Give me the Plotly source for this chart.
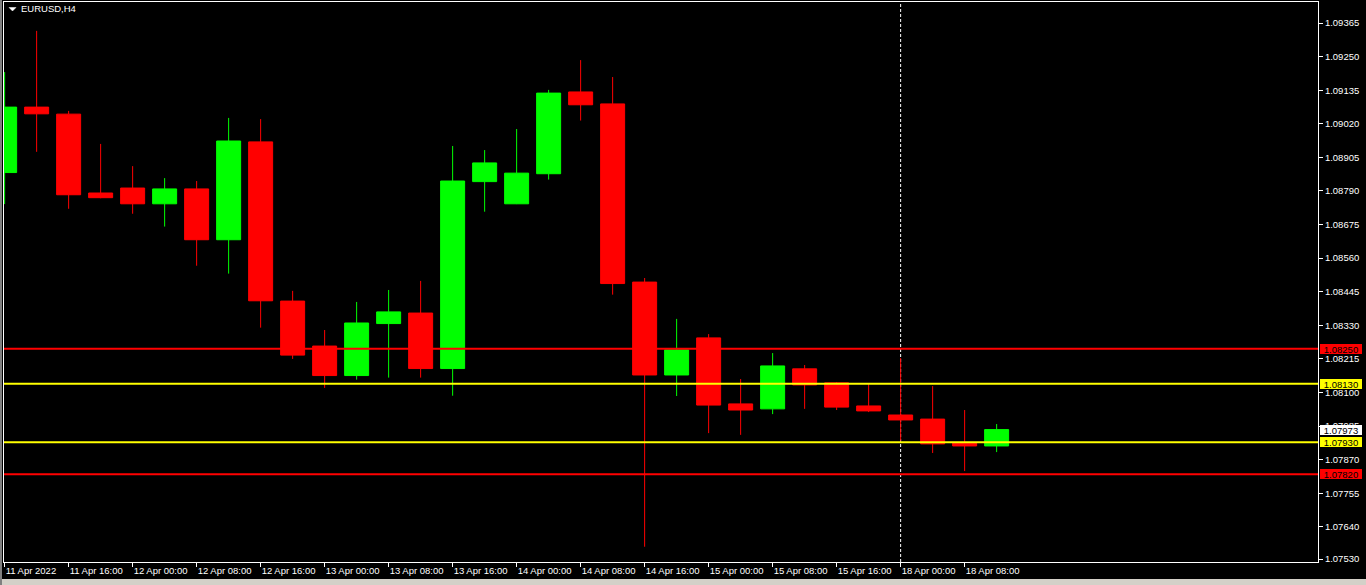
import plotly.graph_objects as go

symbol_title = "EURUSD,H4"

bar_index = list(range(32))
opens = [1.08853, 1.09077, 1.09053, 1.08783, 1.08800, 1.08746, 1.08797, 1.08623,
         1.08958, 1.08413, 1.08259, 1.08158, 1.08336, 1.08372, 1.08182, 1.08822,
         1.08746, 1.08849, 1.09129, 1.09088, 1.08478, 1.08160, 1.08287, 1.08061,
         1.08044, 1.08181, 1.08133, 1.08054, 1.08023, 1.08009, 1.07927, 1.07917]
highs = [1.09197, 1.09338, 1.09064, 1.08951, 1.08875, 1.08834, 1.08824, 1.09040,
         1.09036, 1.08448, 1.08314, 1.08410, 1.08451, 1.08482, 1.08944, 1.08930,
         1.09002, 1.09136, 1.09238, 1.09180, 1.08492, 1.08352, 1.08300, 1.08146,
         1.08235, 1.08194, 1.08136, 1.08129, 1.08218, 1.08122, 1.08040, 1.07992]
lows = [1.08745, 1.08924, 1.08729, 1.08765, 1.08712, 1.08668, 1.08534, 1.08507,
        1.08322, 1.08215, 1.08116, 1.08144, 1.08151, 1.08151, 1.08089, 1.08719,
        1.08745, 1.08829, 1.09031, 1.08435, 1.07572, 1.08088, 1.07961, 1.07955,
        1.08026, 1.08044, 1.08040, 1.08033, 1.07935, 1.07893, 1.07831, 1.07896]
closes = [1.09077, 1.09054, 1.08777, 1.08767, 1.08746, 1.08797, 1.08623, 1.08961,
          1.08414, 1.08228, 1.08158, 1.08338, 1.08376, 1.08182, 1.08824, 1.08886,
          1.08851, 1.09125, 1.09085, 1.08473, 1.08160, 1.08246, 1.08057, 1.08040,
          1.08191, 1.08126, 1.08050, 1.08037, 1.08006, 1.07924, 1.07917, 1.07973]

tick_positions = list(range(0, 32, 2))
tick_labels = ["11 Apr 2022", "11 Apr 16:00", "12 Apr 00:00", "12 Apr 08:00",
               "12 Apr 16:00", "13 Apr 00:00", "13 Apr 08:00", "13 Apr 16:00",
               "14 Apr 00:00", "14 Apr 08:00", "14 Apr 16:00", "15 Apr 00:00",
               "15 Apr 08:00", "15 Apr 16:00", "18 Apr 00:00", "18 Apr 08:00"]

price_ticks = [1.09365, 1.09250, 1.09135, 1.09020, 1.08905, 1.08790, 1.08675,
               1.08560, 1.08445, 1.08330, 1.08215, 1.08100, 1.07985, 1.07870,
               1.07755, 1.07640, 1.07530]

red_levels = [1.08250, 1.07820]
yellow_levels = [1.08130, 1.07930]
last_price = 1.07973
separator_index = 28

FONT = "Liberation Sans, Arial, sans-serif"
FS = 9.5

W, H = 1366, 585
ML, MR, MT, MB = 4, 48, 2, 23
plot_w = W - ML - MR
plot_h = H - MT - MB

fig = go.Figure()
fig.add_trace(go.Candlestick(
    x=bar_index, open=opens, high=highs, low=lows, close=closes,
    increasing=dict(line=dict(color="#00ff00", width=1), fillcolor="#00ff00"),
    decreasing=dict(line=dict(color="#ff0000", width=1), fillcolor="#ff0000"),
    whiskerwidth=0, showlegend=False, hoverinfo="skip"))

shapes = []
# period separator
shapes.append(dict(type="line", xref="x", yref="paper", x0=separator_index, x1=separator_index,
                   y0=0, y1=1, line=dict(color="white", width=1, dash="3px,2px"), layer="below"))
for lv in red_levels:
    shapes.append(dict(type="line", xref="paper", yref="y", x0=0, x1=1, y0=lv, y1=lv,
                       line=dict(color="#ff0000", width=2), layer="above"))
for lv in yellow_levels:
    shapes.append(dict(type="line", xref="paper", yref="y", x0=0, x1=1, y0=lv, y1=lv,
                       line=dict(color="#ffff00", width=2), layer="above"))


def px(xp):
    return (xp - ML) / plot_w


def py(yp):
    return (H - MB - yp) / plot_h


# window frame strips
shapes.append(dict(type="rect", xref="paper", yref="paper",
                   x0=px(0), x1=px(W), y0=py(H), y1=py(579),
                   fillcolor="#d4d0c8", line=dict(width=0), layer="above"))
shapes.append(dict(type="rect", xref="paper", yref="paper",
                   x0=px(0), x1=px(2), y0=py(H), y1=py(0),
                   fillcolor="#808080", line=dict(width=0), layer="above"))

# title triangle
shapes.append(dict(type="path", xref="paper", yref="paper",
                   path=f"M {px(9)} {py(7.5)} L {px(16)} {py(7.5)} L {px(12.5)} {py(11)} Z",
                   fillcolor="white", line=dict(color="white", width=0.5), layer="above"))

annotations = [dict(text=symbol_title, xref="paper", yref="paper", x=px(19), y=py(9),
                    xanchor="left", yanchor="middle", showarrow=False,
                    font=dict(color="white", size=FS, family=FONT))]

boxes = [(red_levels[0], "#ff0000"), (yellow_levels[0], "#ffff00"),
         (last_price, "#ffffff"), (yellow_levels[1], "#ffff00"), (red_levels[1], "#ff0000")]
for val, col in boxes:
    annotations.append(dict(text=f"{val:.5f}", xref="paper", yref="y", x=1, y=val,
                            xanchor="left", yanchor="middle", xshift=2, showarrow=False,
                            bgcolor=col, borderpad=0, borderwidth=0, width=42, height=10,
                            align="center",
                            font=dict(color="black", size=FS, family=FONT)))

fig.update_layout(
    width=W, height=H,
    margin=dict(l=ML, r=MR, t=MT, b=MB, pad=0),
    paper_bgcolor="black", plot_bgcolor="black",
    boxgap=0.25, boxgroupgap=0, showlegend=False,
    font=dict(family=FONT, size=FS, color="white"),
    shapes=shapes, annotations=annotations,
)

fig.update_xaxes(
    range=[-0.02, -0.02 + plot_w / 32.0], tickmode="array",
    tickvals=tick_positions, ticktext=tick_labels,
    ticks="outside", ticklen=4, tickcolor="white", tickwidth=1,
    ticklabelposition="outside right", showgrid=False, zeroline=False,
    showline=True, linecolor="white", linewidth=1, mirror=True,
    rangeslider=dict(visible=False), tickfont=dict(color="white", size=FS, family=FONT),
    automargin=False,
)

y_top = 1.09365 + (23 - MT) / 29210.0
y_bot = 1.09365 - (H - MB - 23) / 29210.0
fig.update_yaxes(
    side="right", range=[y_bot, y_top], tickmode="array",
    tickvals=price_ticks, ticktext=[f"{v:.5f}" for v in price_ticks],
    ticks="outside", ticklen=4, tickcolor="white", tickwidth=1,
    showgrid=False, zeroline=False, showline=True, linecolor="white",
    linewidth=1, mirror=True, tickfont=dict(color="white", size=FS, family=FONT),
    automargin=False,
)

fig.write_html("out.html",
               config={"displayModeBar": False, "staticPlot": True},
               post_script="document.body.style.margin='0';document.body.style.overflow='hidden';")
